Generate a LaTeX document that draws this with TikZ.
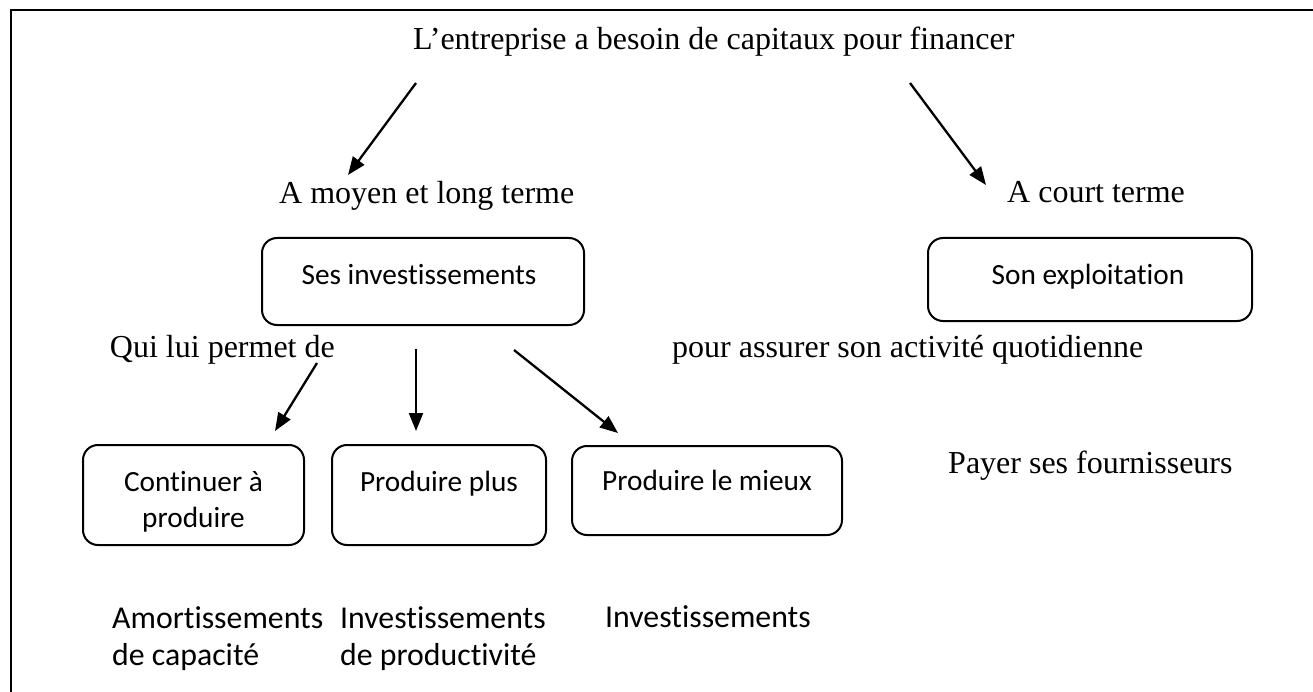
\documentclass[tikz,border=0pt]{standalone}
\usepackage{fontspec}
\setmainfont{Liberation Serif}
\newfontfamily\calfont[Ligatures=NoCommon]{Carlito}
\usetikzlibrary{arrows.meta}
\begin{document}
\begin{tikzpicture}[x=1pt,y=-1pt,
  serif/.style={inner sep=0pt,font=\fontsize{32}{38}\selectfont},
  boxtxt/.style={inner sep=0pt,align=center,font=\calfont\fontsize{29.3}{36}\selectfont},
  lowtxt/.style={inner sep=0pt,align=left,font=\calfont\fontsize{31.8}{37}\selectfont},
  rbox/.style={draw,line width=2pt,rounded corners=15pt,minimum width=#1,inner sep=0pt},
  arr/.style={line width=2.3pt,-{Triangle[length=18pt,width=14pt]}}]
\useasboundingbox (0,0) rectangle (1313,692);
\fill[white] (0,0) rectangle (1313,692);
% frame
\draw[line width=2.8pt] (11,692) -- (11,10) -- (1313,10);
% texts
\node[serif,anchor=base west] (top) at (413,50) {L’entreprise a besoin de capitaux pour financer};
\node[serif,anchor=base west] (mlt) at (279,204) {A moyen et long terme};
\node[serif,anchor=base west] (ct) at (1007,203) {A court terme};
\node[serif,anchor=base east] (qui) at (335,357) {Qui lui permet de};
\node[serif,anchor=base west] (pour) at (672,357) {pour assurer son activité quotidienne};
\node[serif,anchor=base west] (payer) at (948,473) {Payer ses fournisseurs};
% boxes
\node[rbox=322pt,minimum height=87pt] (inv) at (423,281.5) {};
\node[boxtxt,anchor=base] (invt) at (419,285) {Ses investissements};
\node[rbox=324pt,minimum height=83pt] (exp) at (1090,279.5) {};
\node[boxtxt,anchor=base] (expt) at (1088,285) {Son exploitation};
\node[rbox=221pt,minimum height=100pt] (b1) at (193.5,495) {};
\node[boxtxt,anchor=base] (b1t) at (193.5,527) {Continuer à\\produire};
\node[rbox=214pt,minimum height=100pt] (b2) at (439,495) {};
\node[boxtxt,anchor=base] (b2t) at (439,491) {Produire plus};
\node[rbox=270pt,minimum height=89pt] (b3) at (707,490.5) {};
\node[boxtxt,anchor=base] (b3t) at (707,490) {Produire le mieux};
% lower labels
\node[lowtxt,anchor=base west] (l1) at (112,665) {Amortissements\\de capacité};
\node[lowtxt,anchor=base west] (l2) at (340,665) {Investissements\\de productivité};
\node[lowtxt,anchor=base west] (l3) at (605,627) {Investissements};
% arrow coordinates
\coordinate (a1s) at (416,83);  \coordinate (a1e) at (348,175);
\coordinate (a2s) at (910,83);  \coordinate (a2e) at (986,185);
\coordinate (a3s) at (317,363); \coordinate (a3e) at (275,431);
\coordinate (a4s) at (416,349); \coordinate (a4e) at (416,431);
\coordinate (a5s) at (514,350); \coordinate (a5e) at (618,433);
\draw[arr] (a1s) -- (a1e);
\draw[arr] (a2s) -- (a2e);
\draw[arr] (a3s) -- (a3e);
\draw[arr] (a4s) -- (a4e);
\draw[arr] (a5s) -- (a5e);
\end{tikzpicture}
\end{document}
